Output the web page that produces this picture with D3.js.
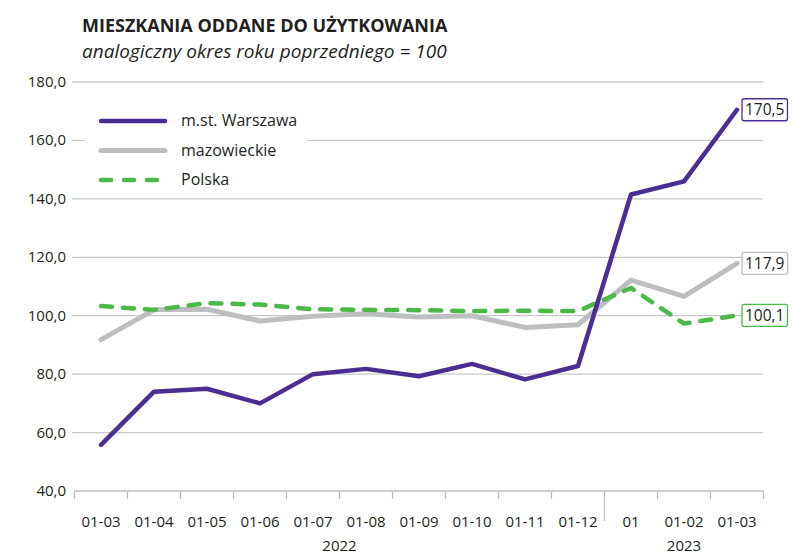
<!DOCTYPE html>
<html>
<head>
<meta charset="utf-8">
<script src="https://cdn.jsdelivr.net/npm/d3@7"></script>
<style>
  body { margin: 0; background: #fff; }
  text { font-family: "Open Sans", "Noto Sans", sans-serif; fill: #231f20; }
</style>
</head>
<body>
<script>
const w = 792
const h = 556

const months = ['01-03', '01-04', '01-05', '01-06', '01-07', '01-08', '01-09', '01-10', '01-11', '01-12', '01', '01-02', '01-03']
const years = [['2022', 0, 10], ['2023', 10, 13]]
const warszawa = [55.8, 74.0, 75.0, 70.0, 80.0, 81.8, 79.3, 83.5, 78.2, 82.8, 141.5, 146.0, 170.5]
const mazowieckie = [91.8, 102.0, 102.2, 98.2, 99.8, 100.7, 99.6, 100.0, 96.0, 96.9, 112.2, 106.6, 117.9]
const polska = [103.3, 102.0, 104.3, 103.8, 102.2, 102.0, 101.9, 101.6, 101.7, 101.6, 109.5, 97.3, 100.1]
const yTicks = [40, 60, 80, 100, 120, 140, 160, 180]

const series = [
  { name: 'm.st. Warszawa', values: warszawa, color: '#4b2e91', width: 4.5, dash: null },
  { name: 'mazowieckie', values: mazowieckie, color: '#bcbec0', width: 5, dash: null },
  { name: 'Polska', values: polska, color: '#4cb848', width: 4.5, dash: '11,11' }
]

const fmt = v => v.toFixed(1).replace('.', ',')

const svg = d3.select('body')
  .append('svg')
  .attr('width', w)
  .attr('height', h)

svg.append('text')
  .attr('x', 82).attr('y', 32)
  .attr('font-size', 18).attr('font-weight', 700)
  .text('MIESZKANIA ODDANE DO UŻYTKOWANIA')

svg.append('text')
  .attr('x', 82).attr('y', 58)
  .attr('font-size', 19).attr('font-style', 'italic')
  .text('analogiczny okres roku poprzedniego = 100')

const xScale = d3.scaleBand()
  .domain(d3.range(months.length))
  .range([74.5, 763.5])

const yScale = d3.scaleLinear()
  .domain([40, 180])
  .range([491, 82])

// grid
svg.append('g')
  .selectAll('line')
  .data(yTicks.slice(1))
  .enter()
  .append('line')
  .attr('x1', 72).attr('x2', 763)
  .attr('y1', d => yScale(d)).attr('y2', d => yScale(d))
  .attr('stroke', '#c7c8ca').attr('stroke-width', 1.3)

// y labels
svg.append('g')
  .selectAll('text')
  .data(yTicks)
  .enter()
  .append('text')
  .attr('x', 66)
  .attr('y', d => yScale(d) + 5)
  .attr('text-anchor', 'end')
  .attr('font-size', 15)
  .text(d => fmt(d))

// x axis
const xAxis = svg.append('g')
xAxis.append('line')
  .attr('x1', 74.5).attr('x2', 763.5)
  .attr('y1', 491).attr('y2', 491)
  .attr('stroke', '#bcbec0').attr('stroke-width', 1.3)

xAxis.selectAll('.tick')
  .data(d3.range(months.length + 1))
  .enter()
  .append('line')
  .attr('x1', i => 74.5 + i * xScale.step())
  .attr('x2', i => 74.5 + i * xScale.step())
  .attr('y1', 491)
  .attr('y2', i => i === 10 ? 521 : 499)
  .attr('stroke', '#bcbec0').attr('stroke-width', 1.3)

xAxis.selectAll('.lab')
  .data(months)
  .enter()
  .append('text')
  .attr('x', (d, i) => xScale(i) + xScale.bandwidth() / 2)
  .attr('y', 527)
  .attr('text-anchor', 'middle')
  .attr('font-size', 15)
  .text(d => d)

xAxis.selectAll('.year')
  .data(years)
  .enter()
  .append('text')
  .attr('x', d => (xScale(d[1]) + xScale(d[2] - 1) + xScale.bandwidth()) / 2)
  .attr('y', 551)
  .attr('text-anchor', 'middle')
  .attr('font-size', 15)
  .text(d => d[0])

// lines
const line = d3.line()
  .x((d, i) => xScale(i) + xScale.bandwidth() / 2)
  .y(d => yScale(d))

const drawOrder = [series[1], series[2], series[0]]
svg.append('g')
  .selectAll('path')
  .data(drawOrder)
  .enter()
  .append('path')
  .attr('d', d => line(d.values))
  .attr('fill', 'none')
  .attr('stroke', d => d.color)
  .attr('stroke-width', d => d.width)
  .attr('stroke-dasharray', d => d.dash)
  .attr('stroke-linecap', 'round')
  .attr('stroke-linejoin', 'round')

// end labels
const last = months.length - 1
series.forEach(s => {
  const v = s.values[last]
  const cy = yScale(v)
  const g = svg.append('g')
  const t = g.append('text')
    .attr('x', 745).attr('y', cy + 5.5)
    .attr('font-size', 15.5)
    .text(fmt(v))
  const bb = t.node().getBBox()
  g.insert('rect', 'text')
    .attr('x', bb.x - 3).attr('y', cy - 11)
    .attr('width', bb.width + 6).attr('height', 22)
    .attr('rx', 2)
    .attr('fill', '#fff')
    .attr('stroke', s.color).attr('stroke-width', 1.3)
})

// legend
const legend = svg.append('g')
legend.append('rect')
  .attr('x', 85).attr('y', 104).attr('width', 222).attr('height', 90)
  .attr('fill', '#fff')
series.forEach((s, i) => {
  const y = 121 + i * 29.5
  legend.append('line')
    .attr('x1', 101).attr('x2', 165)
    .attr('y1', y).attr('y2', y)
    .attr('stroke', s.color)
    .attr('stroke-width', s.width)
    .attr('stroke-dasharray', s.dash ? '10,13' : null)
    .attr('stroke-linecap', 'round')
  legend.append('text')
    .attr('x', 181).attr('y', y + 5)
    .attr('font-size', 16)
    .text(s.name)
})
</script>
</body>
</html>
